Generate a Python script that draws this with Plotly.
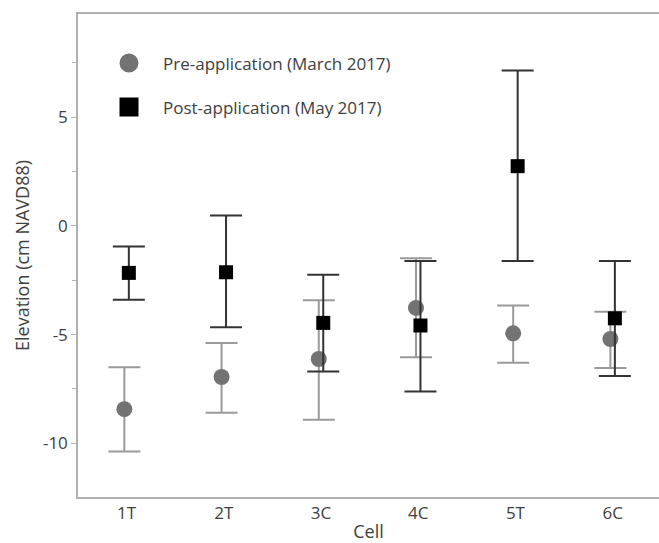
import plotly.graph_objects as go

cells = ["1T", "2T", "3C", "4C", "5T", "6C"]
y_ticks = [-10, -5, 0, 5]
y_tick_labels = ["-10", "-5", "0", "5"]

pre_mean = [-8.43, -6.95, -6.12, -3.77, -4.94, -5.20]
pre_upper = [-6.50, -5.38, -3.42, -1.49, -3.66, -3.95]
pre_lower = [-10.38, -8.59, -8.92, -6.04, -6.29, -6.53]

post_mean = [-2.16, -2.13, -4.46, -4.58, 2.75, -4.25]
post_upper = [-0.95, 0.48, -2.24, -1.61, 7.15, -1.61]
post_lower = [-3.39, -4.66, -6.70, -7.62, -1.61, -6.90]

pre_name = "Pre-application (March 2017)"
post_name = "Post-application (May 2017)"

FONT = "Open Sans"
TXT = "#404040"
dodge = 0.023
idx = list(range(len(cells)))

# plot area in pixels (for placing legends in paper coordinates)
L, R, T, B = 78, 659, 14, 497

def px2paper(px, py):
    return (px - L) / (R - L), (B - py) / (B - T)

fig = go.Figure()

fig.add_trace(go.Scatter(
    x=[i - dodge for i in idx], y=pre_mean, mode="markers",
    marker=dict(symbol="circle", size=16, color="#737373"),
    error_y=dict(type="data", symmetric=False,
                 array=[u - m for u, m in zip(pre_upper, pre_mean)],
                 arrayminus=[m - l for m, l in zip(pre_mean, pre_lower)],
                 color="#9a9a9a", thickness=2, width=16),
    showlegend=False, name=pre_name))

fig.add_trace(go.Scatter(
    x=[i + dodge for i in idx], y=post_mean, mode="markers",
    marker=dict(symbol="square", size=14, color="#000000"),
    error_y=dict(type="data", symmetric=False,
                 array=[u - m for u, m in zip(post_upper, post_mean)],
                 arrayminus=[m - l for m, l in zip(post_mean, post_lower)],
                 color="#333333", thickness=2, width=16),
    showlegend=False, name=post_name))

# legend entries
fig.add_trace(go.Scatter(x=[None], y=[None], mode="markers", name=pre_name,
                         marker=dict(symbol="circle", size=16, color="#737373",
                                     line=dict(color="#737373", width=3)),
                         legend="legend"))
fig.add_trace(go.Scatter(x=[None], y=[None], mode="markers", name=post_name,
                         marker=dict(symbol="square", size=16, color="#000000",
                                     line=dict(color="#000000", width=3)),
                         legend="legend2"))

leg_common = dict(xanchor="left", yanchor="middle",
                  bgcolor="rgba(0,0,0,0)", borderwidth=0, itemwidth=58,
                  font=dict(family=FONT, size=17, color=TXT))
l1x, l1y = px2paper(95, 63.5)
l2x, l2y = px2paper(95, 107.5)

fig.update_layout(
    width=659, height=543,
    margin=dict(l=L, r=659 - R, t=T, b=543 - B, autoexpand=False),
    paper_bgcolor="white", plot_bgcolor="white",
    font=dict(family=FONT, size=17, color=TXT),
    legend=dict(x=l1x, y=l1y, **leg_common),
    legend2=dict(x=l2x, y=l2y, **leg_common),
    xaxis=dict(
        range=[-0.5, 5.477], tickmode="array", tickvals=idx, ticktext=cells,
        showgrid=False, zeroline=False, showline=True, linecolor="#b0b0b0",
        linewidth=1.5, mirror=True, ticks="",
        title=dict(text="Cell", font=dict(family=FONT, size=18, color=TXT), standoff=12),
        tickfont=dict(family=FONT, size=17, color=TXT),
    ),
    yaxis=dict(
        range=[-12.47, 9.75], tickmode="array", tickvals=y_ticks, ticktext=y_tick_labels,
        showgrid=False, zeroline=False, showline=True, linecolor="#b0b0b0",
        linewidth=1.5, ticks="outside", ticklen=5, tickcolor="#b0b0b0", tickwidth=1,
        minor=dict(tickvals=[-12.5, -7.5, -2.5, 2.5, 7.5], ticks="outside", ticklen=4,
                   tickcolor="#b0b0b0", tickwidth=1),
        title=dict(text="Elevation (cm NAVD88)", font=dict(family=FONT, size=18, color=TXT),
                   standoff=9),
        tickfont=dict(family=FONT, size=17, color=TXT),
    ),
)

fig.write_html("out.html")
